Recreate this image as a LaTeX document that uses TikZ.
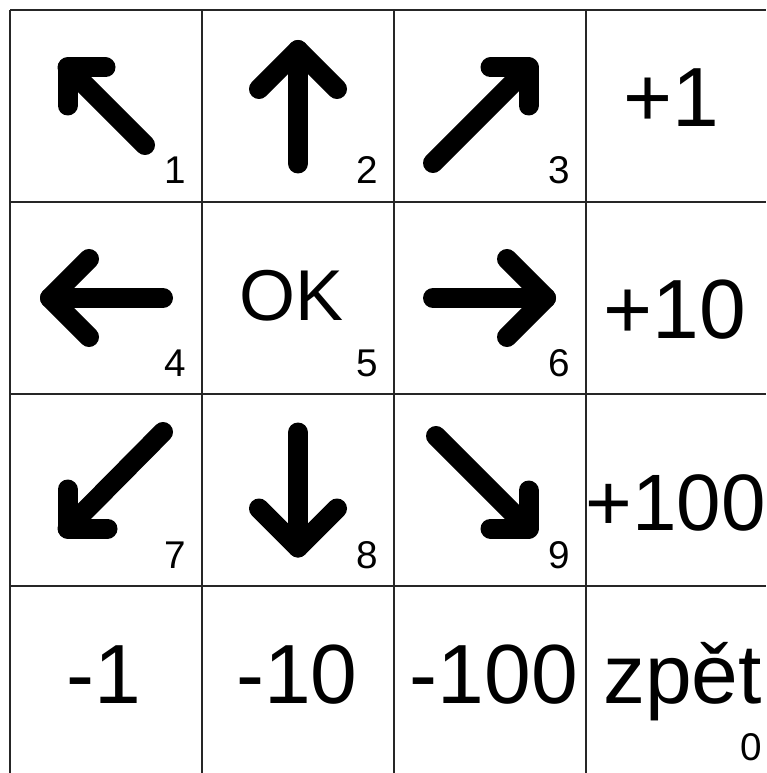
\documentclass[tikz,border=0pt]{standalone}
\usepackage{fontspec}
\setmainfont{Liberation Sans}
\usepackage{tikz}
\usetikzlibrary{positioning}

\begin{document}
\begin{tikzpicture}[
  x=0.75pt, y=-0.75pt,
  gridline/.style={draw=black!85, line width=1.3pt},
  arr/.style ={line width=15pt, line cap=round, line join=round},
  key/.style ={font=\fontsize{63pt}{63pt}\selectfont, inner sep=0pt, anchor=base},
  okkey/.style={key, font=\fontsize{54pt}{54pt}\selectfont},
  num/.style ={font=\fontsize{29pt}{29pt}\selectfont, inner sep=0pt, anchor=base}
]
    \useasboundingbox (0,0) rectangle (766,773);

    % Grid (cut off at the right and bottom edges)
    \foreach \k in {0,1,2,3} {
      \draw[gridline] (10+192*\k, 10) -- (10+192*\k, 773);
      \draw[gridline] (10, 10+192*\k) -- (766, 10+192*\k);
    }

    % Arrow keys
    \draw[arr] (145,145) -- (67.5,67.5);
    \draw[arr] (105.5,67.5) -- (67.5,67.5) -- (67.5,105.5);
    \draw[arr] (298,163.5) -- (298,50);
    \draw[arr] (259,89) -- (298,50) -- (337,89);
    \draw[arr] (433,163) -- (528.5,67.5);
    \draw[arr] (490.5,67.5) -- (528.5,67.5) -- (528.5,105.5);
    \draw[arr] (163,298) -- (50,298);
    \draw[arr] (89,259) -- (50,298) -- (89,337);
    \draw[arr] (433,298) -- (546,298);
    \draw[arr] (507,259) -- (546,298) -- (507,337);
    \draw[arr] (163,432) -- (67.5,528.5);
    \draw[arr] (107.5,528.5) -- (67.5,528.5) -- (67.5,489.5);
    \draw[arr] (298,432.5) -- (298,547.5);
    \draw[arr] (259,508.5) -- (298,547.5) -- (337,508.5);
    \draw[arr] (436,436) -- (528.5,528.5);
    \draw[arr] (490.5,528.5) -- (528.5,528.5) -- (528.5,490.5);

    % Text keys
    \node[okkey] (ok)      at (291.5,320) {OK};
    \node[key]   (plus1)   at (671,127)   {+1};
    \node[key]   (plus10)  at (674.5,338) {+10};
    \node[key, font=\fontsize{60pt}{60pt}\selectfont]
                 (plus100) at (675.5,530) {+100};
    \node[key]   (minus1)  at (103.5,703) {-1};
    \node[key]   (minus10) at (297,703)   {-10};
    \node[key]   (minus100) at (494,703)  {-100};
    \node[key]   (back)    at (682.5,703) {zpět};

    % Key numbers
    \node[num] (n1) at (175,184) {1};
    \node[num] (n2) at (367,184) {2};
    \node[num] (n3) at (559,184) {3};
    \node[num] (n4) at (175,376) {4};
    \node[num] (n5) at (367,376) {5};
    \node[num] (n6) at (559,376) {6};
    \node[num] (n7) at (175,568) {7};
    \node[num] (n8) at (367,568) {8};
    \node[num] (n9) at (559,568) {9};
    \node[num] (n0) at (751,760) {0};
\end{tikzpicture}
\end{document}
